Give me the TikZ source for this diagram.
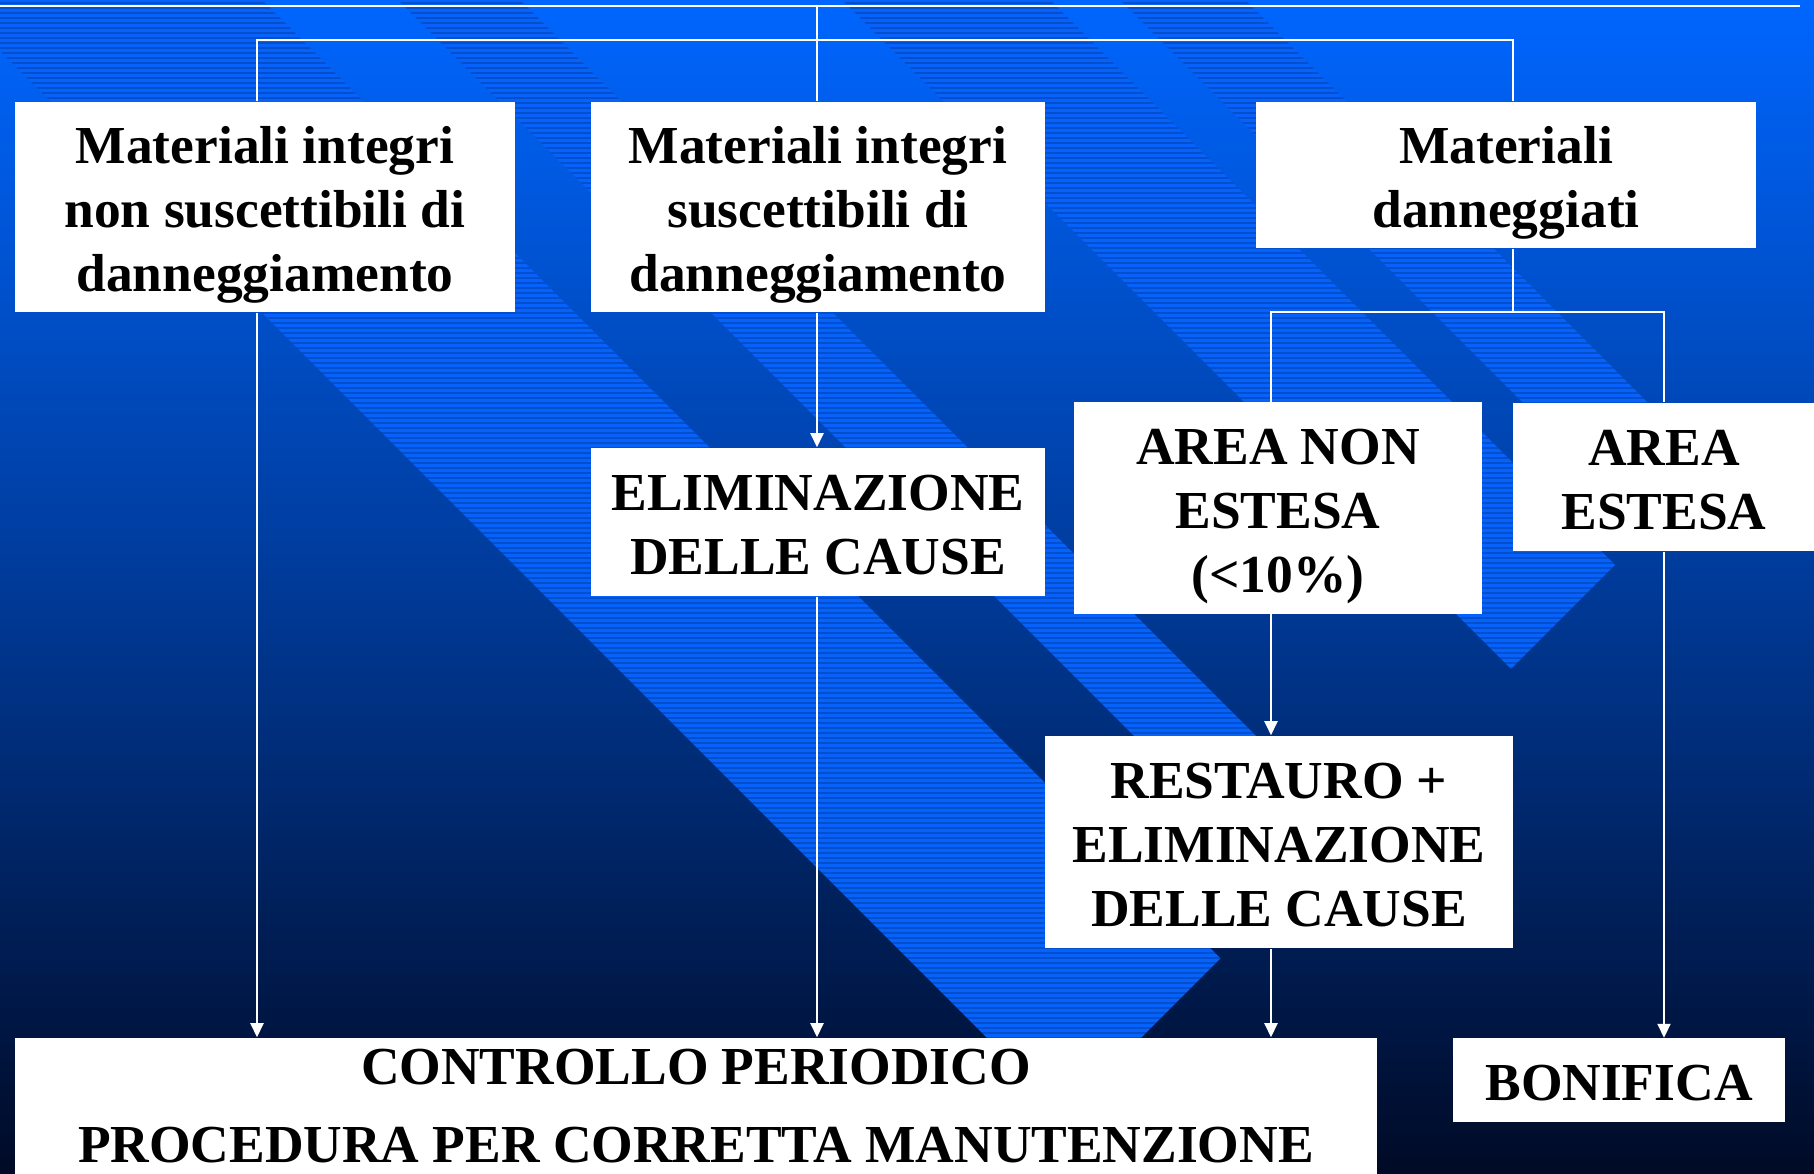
\documentclass[tikz,border=0pt]{standalone}
\usepackage{fontspec}
\setmainfont{Liberation Serif}
\usetikzlibrary{arrows.meta}
\definecolor{bgtop}{RGB}{0,102,255}
\definecolor{bgmid}{RGB}{0,58,152}
\definecolor{bgbot}{RGB}{0,10,38}
\definecolor{stripe}{RGB}{6,98,250}

\begin{document}
\begin{tikzpicture}
  [x=0.01cm,y=-0.01cm,
   box/.style={fill=white,inner sep=0pt,align=flush center,font=\bfseries\fontsize{15.2}{18.2}\selectfont},
   strutted/.style={box,execute at begin node={\rule{0pt}{15.3pt}},execute at end node={\rule[-3.5pt]{0pt}{3.5pt}}},
   link/.style={white,line width=0.6pt},
   >={Triangle[length=1.4mm,width=1.3mm]}]
  \useasboundingbox (0,0) rectangle (1814,1174);
  \clip (0,0) rectangle (1814,1174);
  \shade[top color=bgtop,bottom color=bgbot,middle color=bgmid] (0,0) rectangle (1814,1174);
\foreach \a/\b/\k in
{-51/262/2179, 398/520/2150, 842/1050/2180, 1120/1245/2150}
  {
    \fill[stripe] (\a,0) -- (\b,0) -- ({(\k+\b)/2},{(\k-\b)/2}) -- ({(\k+\a)/2},{(\k-\a)/2}) -- cycle;
    \begin{scope}
      \clip (\a,0) -- (\b,0) -- ({(\k+\b)/2},{(\k-\b)/2}) -- ({(\k+\a)/2},{(\k-\a)/2}) -- cycle;
      \foreach \y in {3,8,...,1174}
        \draw[black,opacity=.18,line width=0.012cm] (0,\y) -- (1814,\y);
    \end{scope}
  }

  \node[strutted,text width=5cm,minimum height=2.1cm] (n1) at (265,207) {Materiali integri\\non suscettibili di\\danneggiamento};
  \node[strutted,text width=4.54cm,minimum height=2.1cm] (n2) at (818,207) {Materiali integri\\suscettibili di\\danneggiamento};
  \node[strutted,text width=4.99cm,minimum height=1.46cm] (n3) at (1506,175) {Materiali\\danneggiati};
  \node[strutted,text width=4.54cm,minimum height=1.48cm] (n4) at (818,522) {ELIMINAZIONE\\DELLE CAUSE};
  \node[strutted,text width=4.08cm,minimum height=2.11cm] (n5) at (1278,508) {AREA NON\\ESTESA\\(<10\%)};
  \node[strutted,text width=3.02cm,minimum height=1.48cm] (n6) at (1664,477) {AREA\\ESTESA};
  \node[strutted,text width=4.68cm,minimum height=2.12cm] (n7) at (1279,842) {RESTAURO +\\ELIMINAZIONE\\DELLE CAUSE};
  \node[box,text width=13.61cm,minimum height=1.36cm] (n8) at (696,1106) {CONTROLLO PERIODICO\\[3.8pt]PROCEDURA PER CORRETTA MANUTENZIONE};
  \node[strutted,text width=3.32cm,minimum height=0.83cm] (n9) at (1619,1080) {BONIFICA};

  \coordinate (t0) at (0,6);
  \coordinate (t1) at (1800,6);
  \coordinate (tm) at (817,6);
  \coordinate (c1) at (257,40);
  \coordinate (c2) at (817,40);
  \coordinate (c3) at (1513,40);
  \coordinate (f1) at (1271,312);
  \coordinate (f2) at (1664,312);

  \draw[link] (t0) -- (t1);
  \draw[link] (tm) -- (n2.north -| tm);
  \draw[link] (n1.north -| c1) -- (c1) -- (c3) -- (n3.north -| c3);
  \draw[link] (n3.south -| c3) -- (c3 |- f1);
  \draw[link] (n5.north -| f1) -- (f1) -- (f2) -- (n6.north -| f2);
\foreach \from/\to/\col in
{n1/n8/c1, n2/n4/c2, n4/n8/c2, n5/n7/f1, n7/n8/f1, n6/n9/f2}
    \draw[link,->] (\from.south -| \col) -- (\to.north -| \col);
\end{tikzpicture}
\end{document}
